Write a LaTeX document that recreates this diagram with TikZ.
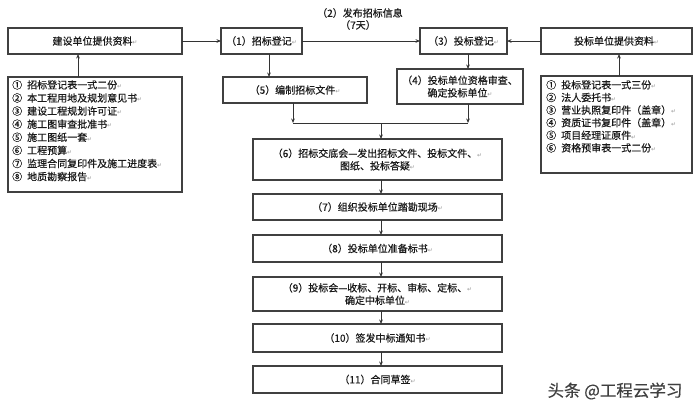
\documentclass[tikz,border=0pt]{standalone}
\usepackage{fontspec}
\setmainfont{Noto Sans CJK SC}[FakeBold=0.4]
\newfontfamily\symfont{DejaVu Sans}
\usetikzlibrary{arrows.meta,calc}
\newcommand{\rt}{{\symfont\fontsize{6}{6}\selectfont\color{black!40}↵}}
\begin{document}
\begin{tikzpicture}[x=1pt,y=-1pt,
 box/.style={draw=black!75, line width=1.1pt, inner sep=0pt, outer sep=0pt, align=center, font=\fontsize{10}{12.5}\selectfont, text=black!90},
 arr/.style={draw=black!80, line width=0.9pt, -{Stealth[length=4.5pt,width=3.6pt]}},
 ln/.style={draw=black!80, line width=0.9pt},
 lst/.style={inner sep=0pt, anchor=north west, align=left, font=\fontsize{10}{13.1}\selectfont, text=black!90},
 lab/.style={inner sep=0pt, font=\fontsize{10}{12}\selectfont, text=black!90}]
\path[use as bounding box, fill=white] (0,0) rectangle (700,410);
% top row
\node[box, minimum width=174pt, minimum height=26pt] (A) at (95,41) {建设单位提供资料\rt};
\node[box, minimum width=81pt, minimum height=26pt] (B1) at (261.5,41) {（1）招标登记\rt};
\node[box, minimum width=87pt, minimum height=26pt] (B3) at (463.5,41) {（3）投标登记\rt};
\node[box, minimum width=151pt, minimum height=26pt] (RT) at (616.5,41) {投标单位提供资料\rt};
\node[lab] (lab2) at (360,13) {（2）发布招标信息};
\node[lab] (lab7) at (358,25) {（7天）};
% lists
\node[box, minimum width=174pt, minimum height=115pt] (L) at (95,134.5) {};
\node[lst] (Lt) at (12,80) {①\hspace{5pt}招标登记表一式二份\rt\\
②\hspace{5pt}本工程用地及规划意见书\rt\\
③\hspace{5pt}建设工程规划许可证\rt\\
④\hspace{5pt}施工图审查批准书\rt\\
⑤\hspace{5pt}施工图纸一套\rt\\
⑥\hspace{5pt}工程预算\rt\\
⑦\hspace{5pt}监理合同复印件及施工进度表\rt\\
⑧\hspace{5pt}地质勘察报告\rt};
\node[box, minimum width=151pt, minimum height=97pt] (RL) at (616.5,124.5) {};
\node[lst, font=\fontsize{10}{12.6}\selectfont] (Rt) at (546,80) {①\hspace{5pt}投标登记表一式三份\rt\\
②\hspace{5pt}法人委托书\rt\\
③\hspace{5pt}营业执照复印件（盖章）\rt\\
④\hspace{5pt}资质证书复印件（盖章）\rt\\
⑤\hspace{5pt}项目经理证原件\rt\\
⑥\hspace{5pt}资格预审表一式二份\rt};
% second row
\node[box, minimum width=144pt, minimum height=26pt] (B5) at (295,90) {（5）编制招标文件\rt};
\node[box, minimum width=126pt, minimum height=35pt] (B4) at (460,86.5) {（4）投标单位资格审查、\\确定投标单位\rt};
% central chain
\node[box, minimum width=249pt, minimum height=41pt] (B6) at (377.5,159.5) {（6）招标交底会—发出招标文件、投标文件、\rt\\图纸、投标答疑\rt};
\node[box, minimum width=249pt, minimum height=26pt] (B7) at (377.5,207) {（7）组织投标单位踏勘现场\rt};
\node[box, minimum width=249pt, minimum height=27pt] (B8) at (377.5,248.5) {（8）投标单位准备标书\rt};
\node[box, minimum width=249pt, minimum height=34pt] (B9) at (377.5,294) {（9）投标会—收标、开标、审标、定标、\rt\\确定中标单位\rt};
\node[box, minimum width=249pt, minimum height=28pt] (B10) at (377.5,338) {（10）签发中标通知书\rt};
\node[box, minimum width=249pt, minimum height=27pt] (B11) at (377.5,379.5) {（11）合同草签\rt};
\node[inner sep=0pt, font=\fontsize{16.5}{16.5}\selectfont, text=black!75] (wm) at (615,391) {头条 @工程云学习};
% helper coordinates
\coordinate (xa) at (78,0);
\coordinate (xr) at (619,0);
\coordinate (x1) at (269,0);
\coordinate (x3) at (468,0);
\coordinate (j5) at (293,123);
\coordinate (j4) at (468,123);
\coordinate (jm) at (381,123);
\coordinate (m) at (381,0);
% connectors
\draw[arr] (L.north -| xa) -- (A.south -| xa);
\draw[arr] (A.east) -- (B1.west);
\draw[arr] (B1.east) -- (B3.west);
\draw[arr] (RT.west) -- (B3.east);
\draw[arr] (RL.north -| xr) -- (RT.south -| xr);
\draw[arr] (B1.south -| x1) -- (B5.north -| x1);
\draw[arr] (B3.south -| x3) -- (B4.north -| x3);
\draw[arr] (B5.south -| j5) -- (j5);
\draw[arr] (B4.south -| j4) -- (j4);
\draw[ln] (j5) -- (j4);
\draw[arr] (jm) -- (B6.north -| jm);
\draw[arr] (B6.south -| m) -- (B7.north -| m);
\draw[arr] (B7.south -| m) -- (B8.north -| m);
\draw[arr] (B8.south -| m) -- (B9.north -| m);
\draw[arr] (B9.south -| m) -- (B10.north -| m);
\draw[arr] (B10.south -| m) -- (B11.north -| m);
\end{tikzpicture}
\end{document}
